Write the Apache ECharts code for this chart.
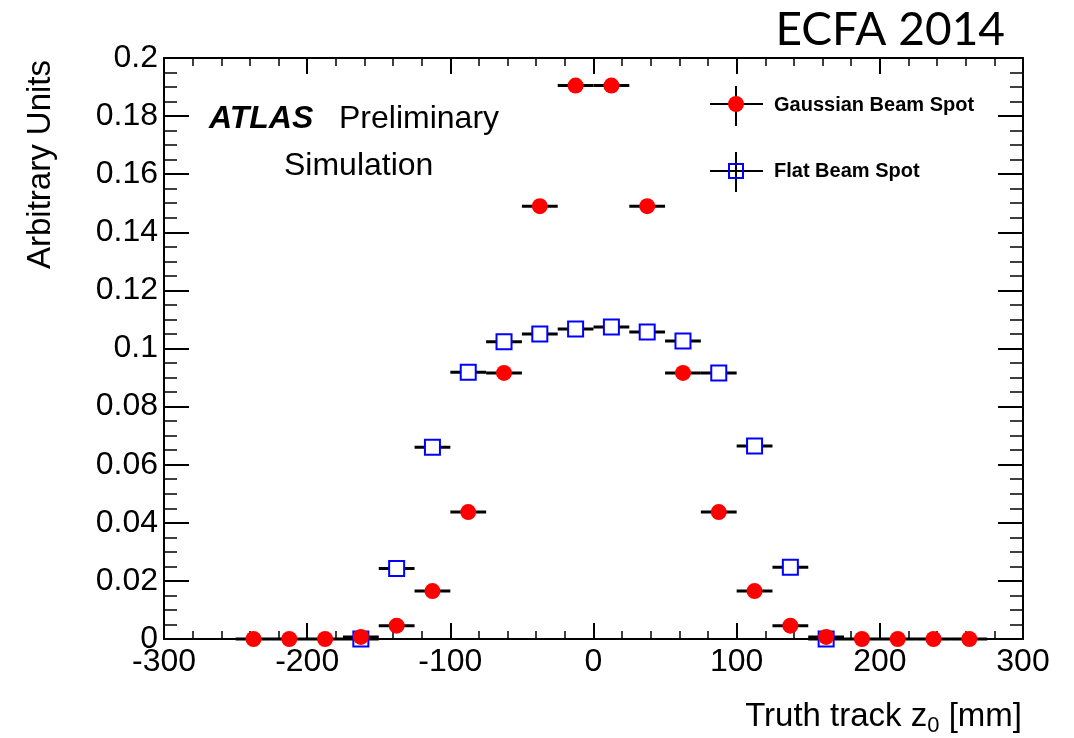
<!DOCTYPE html>
<html>
<head>
<meta charset="utf-8">
<script src="https://cdn.jsdelivr.net/npm/echarts@6/dist/echarts.min.js"></script>
<style>html,body{margin:0;padding:0;background:#fff}#c{width:1074px;height:738px}</style>
</head>
<body>
<div id="c"></div>
<script>
// ---- data ----
const gaussCenters = [-237.5,-212.5,-187.5,-162.5,-137.5,-112.5,-87.5,-62.5,-37.5,-12.5,12.5,37.5,62.5,87.5,112.5,137.5,162.5,187.5,212.5,237.5,262.5];
const gaussValues  = [0,0,0,0.0007,0.0046,0.0165,0.0437,0.0916,0.149,0.1905,0.1905,0.149,0.0916,0.0437,0.0165,0.0046,0.0007,0,0,0,0];
const flatCenters  = [-162.5,-137.5,-112.5,-87.5,-62.5,-37.5,-12.5,12.5,37.5,62.5,87.5,112.5,137.5,162.5];
const flatValues   = [0,0.0243,0.066,0.0918,0.1023,0.105,0.1067,0.1074,0.1057,0.1026,0.0916,0.0664,0.0247,0];
const binHalfWidth = 12.5;
const xRange = [-300, 300];
const yRange = [0, 0.2];
const seriesNames = ['Gaussian Beam Spot', 'Flat Beam Spot'];

const gaussData = gaussCenters.map((x, i) => [x, gaussValues[i]]);
const flatData = flatCenters.map((x, i) => [x, flatValues[i]]);

const FONT = '"Liberation Sans", Arial, Helvetica, sans-serif';

function errBar(params, api) {
  const x = api.value(0), y = api.value(1);
  const p1 = api.coord([x - binHalfWidth, y]);
  const p2 = api.coord([x + binHalfWidth, y]);
  return {type: 'line', shape: {x1: p1[0], y1: p1[1], x2: p2[0], y2: p2[1]},
          style: {stroke: '#000', lineWidth: 3}};
}

function xAxisDef(pos, showLabel) {
  return {
    type: 'value', position: pos, min: xRange[0], max: xRange[1], interval: 100,
    axisLine: {show: true, onZero: false, lineStyle: {color: '#000', width: 2}},
    axisTick: {show: true, inside: true, length: 16, lineStyle: {color: '#000', width: 2}},
    minorTick: {show: true, splitNumber: 5, length: 8, lineStyle: {color: '#000', width: 1.5}},
    splitLine: {show: false}, minorSplitLine: {show: false},
    axisLabel: {show: showLabel, color: '#000', fontSize: 32, fontFamily: FONT, margin: 7}
  };
}
function yAxisDef(pos, showLabel) {
  return {
    type: 'value', position: pos, min: yRange[0], max: yRange[1], interval: 0.02,
    axisLine: {show: true, onZero: false, lineStyle: {color: '#000', width: 2}},
    axisTick: {show: true, inside: true, length: 25, lineStyle: {color: '#000', width: 2}},
    minorTick: {show: true, splitNumber: 4, length: 13, lineStyle: {color: '#000', width: 1.5}},
    splitLine: {show: false}, minorSplitLine: {show: false},
    axisLabel: {show: showLabel, color: '#000', fontSize: 32, fontFamily: FONT, margin: 6}
  };
}

const chart = echarts.init(document.getElementById('c'), null, {renderer: 'canvas'});
chart.setOption({
  backgroundColor: '#fff',
  animation: false,
  grid: {left: 164, right: 51, top: 58, bottom: 99, containLabel: false},
  xAxis: [xAxisDef('bottom', true), xAxisDef('top', false)],
  yAxis: [yAxisDef('left', true), yAxisDef('right', false)],
  series: [
    {type: 'custom', name: seriesNames[0] + ' err', data: gaussData, renderItem: errBar, clip: false, z: 2},
    {type: 'custom', name: seriesNames[1] + ' err', data: flatData, renderItem: errBar, clip: false, z: 2},
    {type: 'scatter', name: seriesNames[1], data: flatData, symbol: 'rect', symbolSize: 15, clip: false, z: 3,
     itemStyle: {color: '#fff', borderColor: '#0000ff', borderWidth: 2, opacity: 1}},
    {type: 'scatter', name: seriesNames[0], data: gaussData, symbol: 'circle', symbolSize: 16, clip: false, z: 4,
     itemStyle: {color: '#ff0000', opacity: 1}}
  ],
  graphic: [
    {type: 'text', x: 1005, y: 30, style: {text: 'ECFA 2014', font: '46px Lato, "Open Sans", sans-serif', fill: '#000', align: 'right', verticalAlign: 'middle'}},
    {type: 'text', x: 209, y: 119, style: {text: 'ATLAS', font: 'italic bold 32px ' + FONT, fill: '#000', align: 'left', verticalAlign: 'middle'}},
    {type: 'text', x: 339, y: 119, style: {text: 'Preliminary', font: '32px ' + FONT, fill: '#000', align: 'left', verticalAlign: 'middle'}},
    {type: 'text', x: 284, y: 166, style: {text: 'Simulation', font: '32px ' + FONT, fill: '#000', align: 'left', verticalAlign: 'middle'}},
    // legend
    {type: 'line', shape: {x1: 710, y1: 104, x2: 763, y2: 104}, style: {stroke: '#000', lineWidth: 2}, z: 10},
    {type: 'line', shape: {x1: 736, y1: 86, x2: 736, y2: 126}, style: {stroke: '#000', lineWidth: 2}, z: 10},
    {type: 'circle', shape: {cx: 736, cy: 104, r: 8}, style: {fill: '#ff0000'}, z: 11},
    {type: 'text', x: 774, y: 105, style: {text: seriesNames[0], font: 'bold 20px ' + FONT, fill: '#000', align: 'left', verticalAlign: 'middle'}, z: 10},
    {type: 'line', shape: {x1: 710, y1: 171, x2: 763, y2: 171}, style: {stroke: '#000', lineWidth: 2}, z: 10},
    {type: 'line', shape: {x1: 736, y1: 152, x2: 736, y2: 192}, style: {stroke: '#000', lineWidth: 2}, z: 10},
    {type: 'rect', shape: {x: 729, y: 164, width: 14, height: 14}, style: {fill: 'rgba(0,0,0,0)', stroke: '#0000ff', lineWidth: 2}, z: 11},
    {type: 'text', x: 774, y: 171, style: {text: seriesNames[1], font: 'bold 20px ' + FONT, fill: '#000', align: 'left', verticalAlign: 'middle'}, z: 10},
    // axis titles
    {type: 'text', x: 41, y: 60, rotation: Math.PI / 2, style: {text: 'Arbitrary Units', font: '33px ' + FONT, fill: '#000', align: 'right', verticalAlign: 'middle'}},
    {type: 'text', x: 1022, y: 717, style: {
      text: '{a|Truth track z}{s|0}{a| [mm]}', align: 'right', verticalAlign: 'middle',
      rich: {
        a: {fontSize: 33, fontFamily: FONT, color: '#000', lineHeight: 40, verticalAlign: 'middle'},
        s: {fontSize: 22, fontFamily: FONT, color: '#000', lineHeight: 40, verticalAlign: 'bottom', padding: [28, 0, 0, 0]}
      }}}
  ]
});
</script>
</body>
</html>
